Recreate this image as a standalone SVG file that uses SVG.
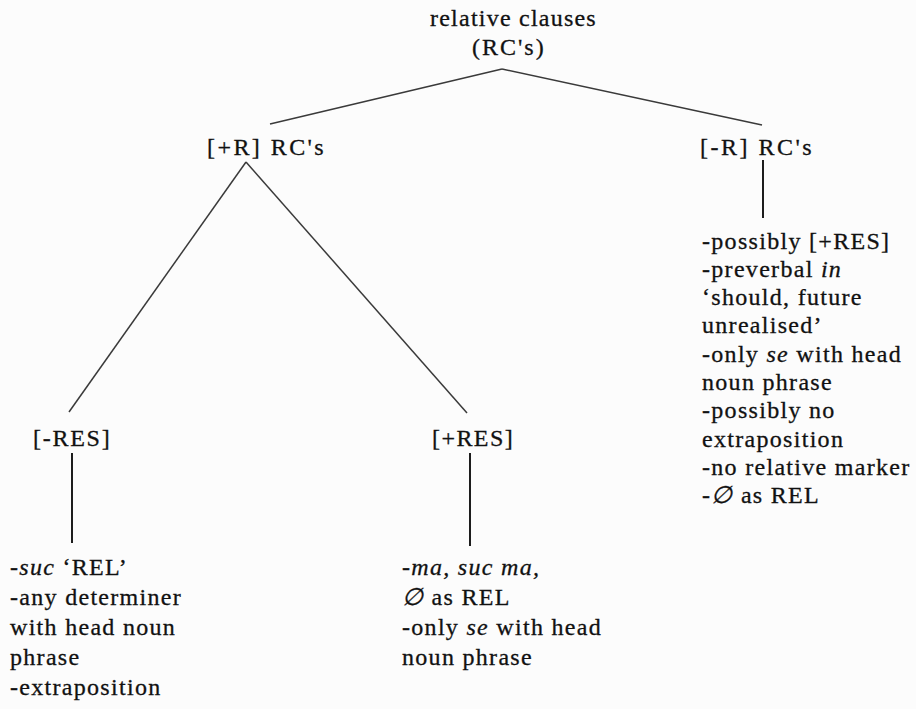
<svg xmlns="http://www.w3.org/2000/svg" width="916" height="709" viewBox="0 0 916 709">
<style>
text{font-family:"Liberation Serif","Times New Roman",serif;font-size:24px;fill:#111;stroke:#111;stroke-width:0.3;letter-spacing:1.3px}
.i{font-style:italic}
.c{stroke:#3a3a3a;stroke-width:1.5;fill:none}
.v{stroke:#111;stroke-width:1.9;fill:none}
</style>
<rect width="916" height="709" fill="#fcfcfc"/>
<g id="connectors">
<line class="c" x1="502" y1="69" x2="270" y2="124"/>
<line class="c" x1="502" y1="69" x2="762" y2="125"/>
<line class="c" x1="246" y1="162" x2="69" y2="412"/>
<line class="c" x1="246" y1="162" x2="467" y2="413"/>
<line class="v" x1="763" y1="160" x2="763" y2="218"/>
<line class="v" x1="72" y1="453" x2="72" y2="543"/>
<line class="v" x1="470" y1="453" x2="470" y2="546"/>
</g>
<g id="root">
<text x="430" y="26" textLength="167" lengthAdjust="spacing">relative clauses</text>
<text x="472" y="55" textLength="73" lengthAdjust="spacing">(RC's)</text>
</g>
<g id="plusR">
<text x="207" y="155" textLength="118" lengthAdjust="spacing">[+R] RC's</text>
</g>
<g id="minusR">
<text x="700" y="155" textLength="113" lengthAdjust="spacing">[-R] RC's</text>
</g>
<g id="minusRES">
<text x="33" y="446" textLength="78" lengthAdjust="spacing">[-RES]</text>
</g>
<g id="plusRES">
<text x="432" y="446" textLength="82" lengthAdjust="spacing">[+RES]</text>
</g>
<g id="minusR-props">
<text x="702" y="249">-possibly [+RES]</text>
<text x="702" y="277">-preverbal <tspan class="i">in</tspan></text>
<text x="702" y="305">‘should, future</text>
<text x="702" y="333">unrealised’</text>
<text x="702" y="362">-only <tspan class="i">se</tspan> with head</text>
<text x="702" y="390">noun phrase</text>
<text x="702" y="418">-possibly no</text>
<text x="702" y="447">extraposition</text>
<text x="702" y="475">-no relative marker</text>
<text x="702" y="503">-<tspan class="i">∅</tspan> as REL</text>
</g>
<g id="minusRES-props">
<text x="10" y="575">-<tspan class="i">suc</tspan> ‘REL’</text>
<text x="10" y="605">-any determiner</text>
<text x="10" y="635">with head noun</text>
<text x="10" y="665">phrase</text>
<text x="10" y="695">-extraposition</text>
</g>
<g id="plusRES-props">
<text x="402" y="575">-<tspan class="i">ma, suc ma,</tspan></text>
<text x="402" y="605"><tspan class="i">∅</tspan> as REL</text>
<text x="402" y="635">-only <tspan class="i">se</tspan> with head</text>
<text x="402" y="665">noun phrase</text>
</g>
</svg>
